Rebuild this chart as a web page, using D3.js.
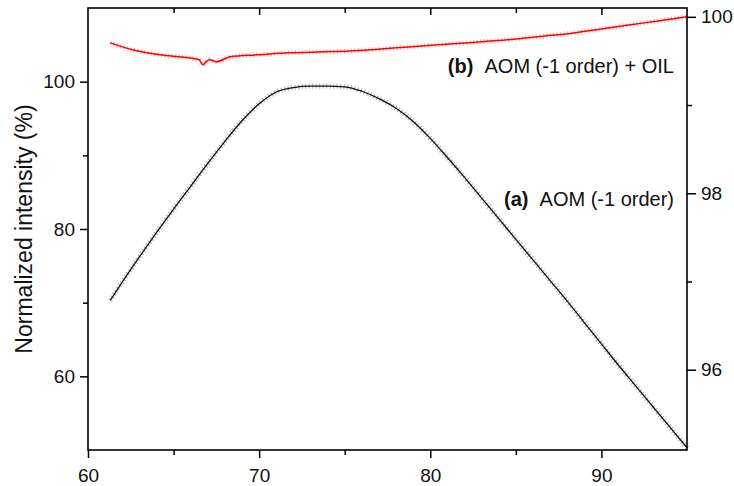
<!DOCTYPE html>
<html>
<head>
<meta charset="utf-8">
<script src="https://cdn.jsdelivr.net/npm/d3@7"></script>
<style>
  html, body { margin: 0; padding: 0; background: #fff; }
  svg { display: block; font-family: "Liberation Sans", Arial, sans-serif; }
</style>
</head>
<body>
<svg id="chart" width="734" height="486"></svg>
<script>
// (a) AOM (-1 order) — left axis
const aX = [61.3, 62, 63, 64, 65, 66, 67, 68, 69, 70, 71, 72, 73, 74, 75, 76, 77, 78, 79, 80,
            81, 82, 83, 84, 85, 86, 87, 88, 89, 90, 91, 92, 93, 94, 95];
const aY = [70.3, 72.8, 76.2, 79.5, 82.7, 85.8, 88.9, 91.9, 94.7, 97.0, 98.6, 99.2, 99.4, 99.4, 99.3, 98.7, 97.7, 96.4, 94.6, 92.3,
            89.7, 87.0, 84.2, 81.4, 78.6, 75.8, 73.0, 70.2, 67.3, 64.4, 61.5, 58.7, 55.9, 53.1, 50.3];

// (b) AOM (-1 order) + OIL — right axis
const bX = [61.3, 62.6, 64.2, 65.9, 66.5, 66.7, 66.9, 67.1, 67.5, 68.3, 69.9, 71.8, 73.7, 75.3, 76.6,
            78.5, 80.5, 82.5, 84.5, 86.4, 88.3, 89.9, 91.5, 93.2, 95];
const bY = [99.705, 99.626, 99.569, 99.535, 99.513, 99.456, 99.49, 99.513, 99.49, 99.547, 99.569, 99.592, 99.603, 99.613, 99.628,
            99.655, 99.683, 99.71, 99.739, 99.778, 99.815, 99.86, 99.905, 99.95, 100.0];

const xTicks = [60, 70, 80, 90];
const xMinor = [65, 75, 85];
const yLTicks = [60, 80, 100];
const yLMinor = [70, 90];
const yRTicks = [96, 98, 100];
const yRMinor = [97, 99];

const L = 88, R = 687, T = 8, B = 450;

const svg = d3.select("#chart");

const x = d3.scaleLinear().domain([60, 95]).range([L, R]);
const yL = d3.scaleLinear().domain([50, 110]).range([B, T]);
const yR = d3.scaleLinear().domain([95.09, 100.10]).range([B, T]);

const line = (sx, sy, xs, ys) => d3.line()
  .x(i => sx(xs[i]))
  .y(i => sy(ys[i]))
  .curve(d3.curveMonotoneX)(d3.range(xs.length));

// scatter-ish halo + fitted line, black series
svg.append("path")
  .attr("d", line(x, yL, aX, aY))
  .attr("fill", "none")
  .attr("stroke", "#666")
  .attr("stroke-width", 5)
  .attr("stroke-dasharray", "1,2.5")
  .attr("opacity", 0.55);
svg.append("path")
  .attr("d", line(x, yL, aX, aY))
  .attr("fill", "none")
  .attr("stroke", "#111")
  .attr("stroke-width", 1.3);

// red series
svg.append("path")
  .attr("d", line(x, yR, bX, bY))
  .attr("fill", "none")
  .attr("stroke", "#ff3030")
  .attr("stroke-width", 5)
  .attr("stroke-dasharray", "1,2.5")
  .attr("opacity", 0.4);
svg.append("path")
  .attr("d", line(x, yR, bX, bY))
  .attr("fill", "none")
  .attr("stroke", "#f00")
  .attr("stroke-width", 1.5);

// frame
const axisStyle = g => {
  g.select(".domain").remove();
  g.selectAll("line").attr("stroke", "#000").attr("stroke-width", 1.5);
  g.selectAll("text").attr("fill", "#111").style("font-size", "19px");
};

svg.append("rect")
  .attr("x", L).attr("y", T)
  .attr("width", R - L).attr("height", B - T)
  .attr("fill", "none")
  .attr("stroke", "#000")
  .attr("stroke-width", 1.6);

// bottom axis
svg.append("g")
  .attr("transform", `translate(0,${B})`)
  .call(d3.axisBottom(x).tickValues(xTicks).tickSize(8).tickPadding(11).tickFormat(d3.format("d")))
  .call(axisStyle);
svg.append("g")
  .attr("transform", `translate(0,${B})`)
  .call(d3.axisBottom(x).tickValues(xMinor).tickSize(5).tickFormat(""))
  .call(axisStyle);

// top axis, inward ticks
svg.append("g")
  .attr("transform", `translate(0,${T})`)
  .call(d3.axisBottom(x).tickValues(xTicks.slice(1)).tickSize(7).tickFormat(""))
  .call(axisStyle);
svg.append("g")
  .attr("transform", `translate(0,${T})`)
  .call(d3.axisBottom(x).tickValues(xMinor).tickSize(5).tickFormat(""))
  .call(axisStyle);

// left axis
svg.append("g")
  .attr("transform", `translate(${L},0)`)
  .call(d3.axisLeft(yL).tickValues(yLTicks).tickSize(8).tickPadding(5).tickFormat(d3.format("d")))
  .call(axisStyle);
svg.append("g")
  .attr("transform", `translate(${L},0)`)
  .call(d3.axisLeft(yL).tickValues(yLMinor).tickSize(5).tickFormat(""))
  .call(axisStyle);

// right axis
svg.append("g")
  .attr("transform", `translate(${R},0)`)
  .call(d3.axisRight(yR).tickValues(yRTicks).tickSize(9).tickPadding(5).tickFormat(d3.format("d")))
  .call(axisStyle);
svg.append("g")
  .attr("transform", `translate(${R},0)`)
  .call(d3.axisRight(yR).tickValues(yRMinor).tickSize(5).tickFormat(""))
  .call(axisStyle);

// y title
svg.append("text")
  .attr("transform", `translate(32,${(T + B) / 2}) rotate(-90)`)
  .attr("text-anchor", "middle")
  .style("font-size", "23px")
  .attr("fill", "#111")
  .text("Normalized intensity (%)");

// annotations
const ann = (y, tag, label) => {
  const t = svg.append("text")
    .attr("x", 674).attr("y", y)
    .attr("text-anchor", "end")
    .style("font-size", "20px")
    .attr("fill", "#111");
  t.append("tspan").style("font-weight", "bold").text(tag);
  t.append("tspan").text("\u00a0\u00a0" + label);
};
ann(73, "(b)", "AOM (-1 order) + OIL");
ann(206, "(a)", "AOM (-1 order)");
</script>
</body>
</html>
